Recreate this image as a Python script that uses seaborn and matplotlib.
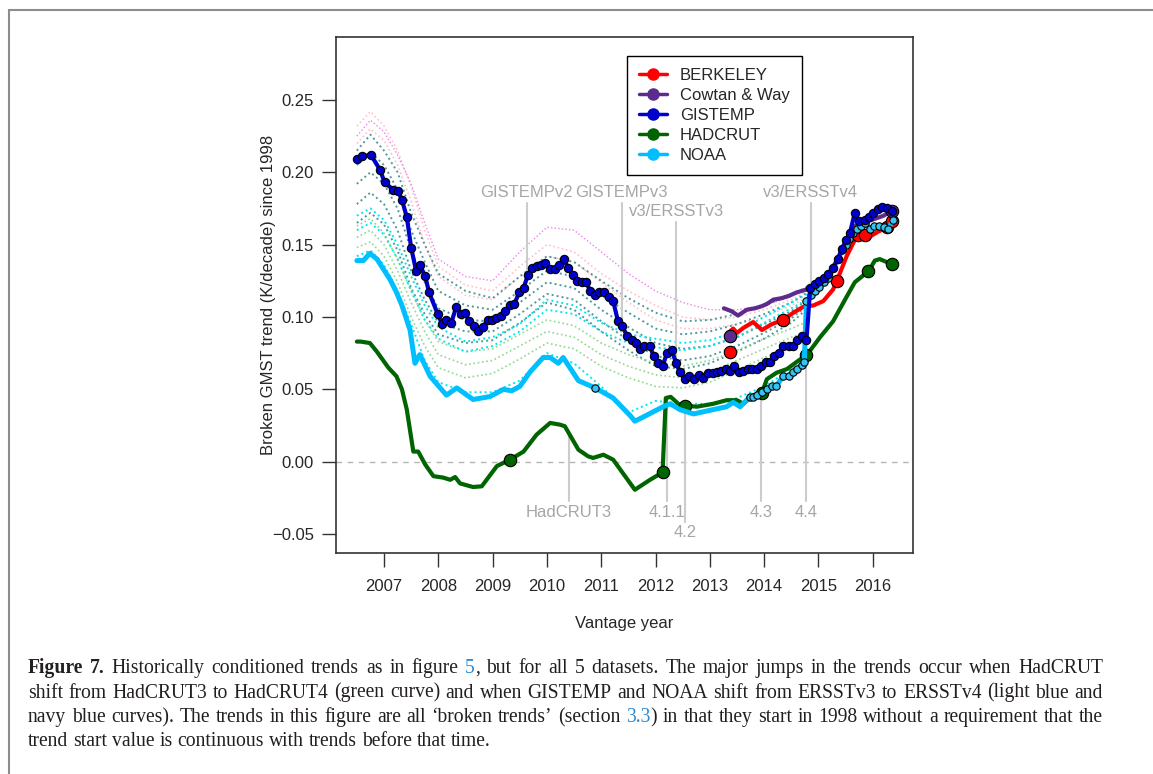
import re
import numpy as np
import matplotlib
matplotlib.use("Agg")
import matplotlib.pyplot as plt
from matplotlib.lines import Line2D
from matplotlib.ticker import FuncFormatter
import seaborn as sns

# ---- values (vantage year, broken trend in K/decade) ----
GISTEMP_X = [2006.50, 2006.59, 2006.76, 2006.93, 2007.01, 2007.17, 2007.26, 2007.33, 2007.42, 2007.50,
             2007.59, 2007.66, 2007.76, 2007.83, 2007.99, 2008.07, 2008.15, 2008.24, 2008.33, 2008.42,
             2008.49, 2008.57, 2008.66, 2008.74, 2008.82, 2008.91, 2008.99, 2009.06, 2009.15, 2009.23,
             2009.32, 2009.40, 2009.49, 2009.57, 2009.65, 2009.73, 2009.81, 2009.89, 2009.97, 2010.06,
             2010.14, 2010.23, 2010.31, 2010.39, 2010.48, 2010.56, 2010.64, 2010.72, 2010.80, 2010.89,
             2010.96, 2011.05, 2011.14, 2011.22, 2011.31, 2011.39, 2011.47, 2011.56, 2011.64, 2011.71,
             2011.79, 2011.89, 2011.97, 2012.05, 2012.13, 2012.21, 2012.30, 2012.38, 2012.45, 2012.54,
             2012.62, 2012.71, 2012.80, 2012.88, 2012.96, 2013.05, 2013.13, 2013.21, 2013.29, 2013.37,
             2013.45, 2013.54, 2013.62, 2013.70, 2013.78, 2013.86, 2013.94, 2014.03, 2014.11, 2014.19,
             2014.27, 2014.35, 2014.45, 2014.53, 2014.61, 2014.69, 2014.78, 2014.85, 2014.94, 2015.02,
             2015.10, 2015.18, 2015.27, 2015.36, 2015.43, 2015.51, 2015.58, 2015.67, 2015.75, 2015.85,
             2015.93, 2016.01, 2016.09, 2016.18, 2016.26, 2016.35]
GISTEMP_Y = [0.209, 0.211, 0.212, 0.2015, 0.193, 0.188, 0.187, 0.181, 0.169, 0.148,
             0.132, 0.136, 0.128, 0.117, 0.102, 0.095, 0.098, 0.096, 0.107, 0.102,
             0.103, 0.097, 0.094, 0.090, 0.093, 0.098, 0.098, 0.099, 0.101, 0.104,
             0.108, 0.109, 0.117, 0.120, 0.129, 0.134, 0.135, 0.136, 0.137, 0.133,
             0.133, 0.136, 0.140, 0.134, 0.129, 0.125, 0.124, 0.124, 0.118, 0.115,
             0.117, 0.117, 0.114, 0.111, 0.097, 0.094, 0.087, 0.084, 0.082, 0.078,
             0.080, 0.080, 0.073, 0.068, 0.066, 0.075, 0.077, 0.068, 0.062, 0.057,
             0.059, 0.057, 0.060, 0.058, 0.061, 0.061, 0.062, 0.063, 0.064, 0.063,
             0.066, 0.062, 0.063, 0.064, 0.064, 0.064, 0.066, 0.069, 0.069, 0.073,
             0.075, 0.080, 0.080, 0.080, 0.084, 0.087, 0.084, 0.120, 0.123, 0.125,
             0.127, 0.130, 0.134, 0.140, 0.147, 0.153, 0.158, 0.172, 0.166, 0.167,
             0.169, 0.172, 0.1745, 0.176, 0.1755, 0.1735]

NOAA_X = [2006.50, 2006.62, 2006.74, 2006.87, 2006.99, 2007.11, 2007.23, 2007.33, 2007.48, 2007.57,
          2007.66, 2007.85, 2008.15, 2008.34, 2008.64, 2008.95, 2009.20, 2009.35, 2009.50, 2009.69,
          2009.93, 2010.06, 2010.21, 2010.30, 2010.58, 2010.89, 2011.22, 2011.53, 2011.62, 2011.78,
          2012.14, 2012.27, 2012.45, 2012.70, 2013.06, 2013.31, 2013.43, 2013.56, 2013.74, 2013.80,
          2013.86, 2013.96, 2014.05, 2014.14, 2014.22, 2014.35, 2014.45, 2014.53, 2014.61, 2014.69,
          2014.74, 2014.78, 2014.86, 2014.94, 2015.02, 2015.10, 2015.18, 2015.27, 2015.36, 2015.43,
          2015.51, 2015.57, 2015.64, 2015.71, 2015.78, 2015.86, 2015.95, 2016.02, 2016.11, 2016.20,
          2016.29, 2016.37]
NOAA_Y = [0.139, 0.139, 0.144, 0.140, 0.133, 0.126, 0.117, 0.108, 0.091, 0.068,
          0.074, 0.059, 0.046, 0.051, 0.043, 0.045, 0.050, 0.049, 0.052, 0.062,
          0.072, 0.072, 0.068, 0.072, 0.056, 0.051, 0.044, 0.032, 0.028, 0.031,
          0.038, 0.040, 0.036, 0.033, 0.036, 0.038, 0.041, 0.038, 0.045, 0.045,
          0.046, 0.048, 0.050, 0.052, 0.052, 0.059, 0.059, 0.062, 0.064, 0.067,
          0.069, 0.111, 0.115, 0.118, 0.121, 0.124, 0.127, 0.134, 0.140, 0.146,
          0.150, 0.154, 0.158, 0.161, 0.163, 0.165, 0.161, 0.163, 0.163, 0.162,
          0.161, 0.167]

HADCRUT_X = [2006.50, 2006.57, 2006.74, 2006.87, 2007.08, 2007.23, 2007.33, 2007.42, 2007.54, 2007.63,
             2007.76, 2007.91, 2008.09, 2008.22, 2008.31, 2008.40, 2008.64, 2008.80, 2008.92, 2009.08,
             2009.32, 2009.57, 2009.81, 2010.06, 2010.24, 2010.33, 2010.58, 2010.76, 2010.85, 2011.04,
             2011.22, 2011.62, 2011.90, 2012.13, 2012.19, 2012.28, 2012.45, 2012.54, 2012.76, 2013.06,
             2013.31, 2013.50, 2013.62, 2013.80, 2013.96, 2014.05, 2014.23, 2014.42, 2014.66, 2014.78,
             2015.03, 2015.27, 2015.52, 2015.67, 2015.92, 2016.04, 2016.13, 2016.35]
HADCRUT_Y = [0.083, 0.083, 0.082, 0.076, 0.065, 0.059, 0.050, 0.036, 0.007, 0.007,
             -0.002, -0.010, -0.011, -0.0125, -0.0106, -0.015, -0.0175, -0.017, -0.011, -0.003,
             0.0014, 0.007, 0.0187, 0.0268, 0.0256, 0.0245, 0.0083, 0.0037, 0.0026, 0.0048,
             0.0014, -0.0194, -0.0125, -0.0074, 0.044, 0.0448, 0.039, 0.0388, 0.038, 0.040,
             0.0425, 0.0425, 0.040, 0.046, 0.0475, 0.057, 0.0615, 0.064, 0.0706, 0.0734,
             0.086, 0.097, 0.114, 0.124, 0.1316, 0.139, 0.140, 0.1365]
HADCRUT_MARKS = [2009.32, 2012.13, 2012.54, 2013.96, 2014.78, 2015.92, 2016.35]

BERKELEY_X = [2013.34, 2013.43, 2013.50, 2013.62, 2013.80, 2013.96, 2014.14, 2014.35, 2014.54, 2014.72,
              2014.91, 2015.09, 2015.27, 2015.34, 2015.52, 2015.64, 2015.72, 2015.85, 2015.95, 2016.10,
              2016.26, 2016.35]
BERKELEY_Y = [0.089, 0.092, 0.089, 0.0925, 0.0965, 0.091, 0.095, 0.098, 0.103, 0.107,
              0.108, 0.111, 0.119, 0.125, 0.142, 0.151, 0.157, 0.1565, 0.1556, 0.159,
              0.162, 0.166]
BERKELEY_MARKS = [2014.35, 2015.34, 2015.72, 2015.85, 2016.26, 2016.35]
BERKELEY_FIRST = [2013.37, 0.076]

COWTAN_X = [2013.26, 2013.40, 2013.52, 2013.68, 2013.83, 2013.96, 2014.05, 2014.17, 2014.32, 2014.45,
            2014.60, 2014.78, 2015.00, 2015.20, 2015.40, 2015.55, 2015.65, 2015.75, 2015.90, 2016.05,
            2016.20, 2016.35]
COWTAN_Y = [0.106, 0.104, 0.101, 0.105, 0.106, 0.1075, 0.109, 0.112, 0.113, 0.1145,
            0.117, 0.119, 0.123, 0.130, 0.143, 0.155, 0.163, 0.163, 0.166, 0.168,
            0.170, 0.1735]
COWTAN_MARKS = [2016.35]
COWTAN_FIRST = [2013.37, 0.087]

# faint dotted ensemble members (half-yearly readings)
ENS_X = [2006.5, 2006.75, 2007.0, 2007.25, 2007.5, 2007.75, 2008.0, 2008.5, 2009.0, 2009.5, 2010.0,
         2010.5, 2011.0, 2011.5, 2012.0, 2012.5, 2013.0, 2013.5, 2014.0, 2014.5, 2014.8]
TEAL_ENS = [
    [0.215, 0.226, 0.215, 0.200, 0.172, 0.150, 0.130, 0.118, 0.113, 0.128, 0.142, 0.138, 0.125, 0.113, 0.103, 0.097, 0.098, 0.102, 0.108, 0.115, 0.121],
    [0.205, 0.214, 0.205, 0.188, 0.160, 0.138, 0.118, 0.108, 0.105, 0.118, 0.132, 0.128, 0.115, 0.103, 0.092, 0.088, 0.090, 0.095, 0.102, 0.110, 0.117],
    [0.192, 0.200, 0.192, 0.175, 0.146, 0.124, 0.106, 0.098, 0.097, 0.110, 0.124, 0.120, 0.105, 0.093, 0.082, 0.078, 0.080, 0.086, 0.095, 0.104, 0.112],
    [0.178, 0.186, 0.178, 0.160, 0.132, 0.112, 0.096, 0.090, 0.090, 0.102, 0.116, 0.112, 0.097, 0.084, 0.073, 0.070, 0.073, 0.080, 0.089, 0.099, 0.108],
    [0.165, 0.172, 0.164, 0.146, 0.120, 0.102, 0.088, 0.082, 0.084, 0.096, 0.110, 0.105, 0.090, 0.077, 0.066, 0.064, 0.068, 0.076, 0.085, 0.096, 0.106],
]
CYAN_ENS = [
    [0.170, 0.175, 0.167, 0.150, 0.128, 0.108, 0.093, 0.083, 0.086, 0.095, 0.112, 0.108, 0.096, 0.088, 0.085, 0.082, 0.084, 0.090, 0.100, 0.110, 0.116],
    [0.160, 0.165, 0.157, 0.140, 0.118, 0.098, 0.085, 0.076, 0.080, 0.090, 0.105, 0.102, 0.090, 0.082, 0.079, 0.077, 0.080, 0.086, 0.096, 0.106, 0.112],
    [0.142, 0.146, 0.136, 0.118, 0.095, 0.070, 0.055, 0.048, 0.048, 0.056, 0.075, 0.068, 0.052, 0.034, 0.042, 0.040, 0.040, 0.044, 0.052, 0.064, 0.070],
]
GREEN_ENS = [
    [0.163, 0.168, 0.158, 0.140, 0.118, 0.098, 0.083, 0.076, 0.078, 0.088, 0.098, 0.094, 0.082, 0.074, 0.068, 0.066, 0.070, 0.077, 0.085, 0.092, 0.097],
    [0.155, 0.160, 0.150, 0.132, 0.110, 0.090, 0.074, 0.067, 0.070, 0.080, 0.090, 0.086, 0.074, 0.066, 0.060, 0.058, 0.062, 0.070, 0.078, 0.086, 0.090],
    [0.148, 0.152, 0.142, 0.124, 0.100, 0.080, 0.065, 0.058, 0.061, 0.071, 0.082, 0.078, 0.066, 0.058, 0.052, 0.051, 0.055, 0.063, 0.072, 0.080, 0.084],
]
PINK_ENS = [
    [0.232, 0.242, 0.232, 0.215, 0.190, 0.160, 0.135, 0.122, 0.118, 0.135, 0.150, 0.145, 0.130, 0.118, 0.108, 0.100, 0.098, 0.100, 0.105, 0.112, 0.118],
    [0.220, 0.230, 0.222, 0.205, 0.180, 0.150, 0.128, 0.115, 0.112, 0.128, 0.142, 0.138, 0.124, 0.110, 0.098, 0.092, 0.092, 0.095, 0.100, 0.108, 0.114],
]
VIOLET_ENS = [
    [0.225, 0.236, 0.228, 0.212, 0.192, 0.165, 0.140, 0.128, 0.125, 0.145, 0.162, 0.160, 0.145, 0.130, 0.118, 0.110, 0.105, 0.105, 0.108, 0.114, 0.120],
]

SERIES = ["BERKELEY", "Cowtan & Way", "GISTEMP", "HADCRUT", "NOAA"]
COLORS = ["#ff0000", "#5d2a8e", "#0000cd", "#006400", "#00bfff"]

TOP_LABELS = ["GISTEMPv2", "GISTEMPv3", "v3/ERSSTv3", "v3/ERSSTv4"]
TOP_X = [2009.63, 2011.38, 2012.38, 2014.86]
TOP_Y = [0.186, 0.186, 0.173, 0.186]
BOTTOM_LABELS = ["HadCRUT3", "4.1.1", "4.2", "4.3", "4.4"]
BOTTOM_X = [2010.40, 2012.21, 2012.54, 2013.95, 2014.78]
BOTTOM_Y = [-0.035, -0.035, -0.049, -0.035, -0.035]

CAPTION = [
    "*Figure *7. Historically conditioned trends as in figure {5}, but for all 5 datasets. The major jumps in the trends occur when HadCRUT",
    "shift from HadCRUT3 to HadCRUT4 (green curve) and when GISTEMP and NOAA shift from ERSSTv3 to ERSSTv4 (light blue and",
    "navy blue curves). The trends in this figure are all \u2018broken trends\u2019 (section {3.3}) in that they start in 1998 without a requirement that the",
    "trend start value is continuous with trends before that time.",
]

# ---- figure ----
sns.set_style("ticks")
plt.rcParams['font.family'] = ['Liberation Sans', 'DejaVu Sans']
W, H = 1153, 774
fig = plt.figure(figsize=(W / 100, H / 100), dpi=100)
ax = fig.add_axes([336 / W, 1 - 553 / H, 577 / W, 516 / H])

dot = (0, (1, 1.6))
for vals in PINK_ENS:
    sns.lineplot(x=ENS_X, y=vals, ax=ax, color="#ffc0cb", lw=1.2, linestyle=dot, zorder=1, legend=False)
for vals in VIOLET_ENS:
    sns.lineplot(x=ENS_X, y=vals, ax=ax, color="#ee82ee", lw=1.0, linestyle=dot, zorder=1, legend=False)
for vals in TEAL_ENS:
    sns.lineplot(x=ENS_X, y=vals, ax=ax, color="#4f9a9a", lw=1.4, linestyle=dot, zorder=1, legend=False)
for vals in GREEN_ENS:
    sns.lineplot(x=ENS_X, y=vals, ax=ax, color="#8fd88f", lw=1.2, linestyle=dot, zorder=1, legend=False)
for vals in CYAN_ENS:
    sns.lineplot(x=ENS_X, y=vals, ax=ax, color="#00e8f0", lw=1.4, linestyle=dot, zorder=1, legend=False)

ax.axhline(0, color="#b5b5b5", lw=1, ls=(0, (4, 4)), zorder=0.5)

# version-change annotations
ann_col, ann_line = "#a6a6a6", "#cccccc"
gis_at = np.interp(TOP_X, GISTEMP_X, GISTEMP_Y)
for lab, x, y, yb in zip(TOP_LABELS, TOP_X, TOP_Y, gis_at):
    ax.plot([x, x], [y - 0.0075, yb], color=ann_line, lw=1.5, zorder=1.5)
    ax.text(x, y, lab, ha="center", va="center", fontsize=12, color=ann_col)
had_at = np.interp(BOTTOM_X, HADCRUT_X, HADCRUT_Y)
for lab, x, y, yt in zip(BOTTOM_LABELS, BOTTOM_X, BOTTOM_Y, had_at):
    ax.plot([x, x], [y + 0.0075, yt], color=ann_line, lw=1.5, zorder=1.5)
    ax.text(x, y, lab, ha="center", va="center", fontsize=12, color=ann_col)


def draw(xs, ys, col, lw, z, mark_idx, ms, mcol=None):
    sns.lineplot(x=xs, y=ys, ax=ax, color=col, lw=lw, sort=False, estimator=None, zorder=z, legend=False)
    if mark_idx:
        mx = [xs[i] for i in mark_idx]
        my = [ys[i] for i in mark_idx]
        sns.scatterplot(x=mx, y=my, ax=ax, s=ms, color=mcol or col, edgecolor="black",
                        linewidth=0.8, zorder=z + 0.05, legend=False)


def idx_of(xs, marks):
    return [i for i, x in enumerate(xs) if any(abs(x - m) < 1e-6 for m in marks)]


c_berk, c_cw, c_gis, c_had, c_noaa = COLORS
draw(BERKELEY_X, BERKELEY_Y, c_berk, 3.0, 3.0, idx_of(BERKELEY_X, BERKELEY_MARKS), 80)
sns.scatterplot(x=[BERKELEY_FIRST[0]], y=[BERKELEY_FIRST[1]], ax=ax, s=80, color=c_berk,
                edgecolor="black", linewidth=0.8, zorder=3.05, legend=False)
draw(COWTAN_X, COWTAN_Y, c_cw, 3.0, 3.2, idx_of(COWTAN_X, COWTAN_MARKS), 80)
sns.scatterplot(x=[COWTAN_FIRST[0]], y=[COWTAN_FIRST[1]], ax=ax, s=80, color=c_cw,
                edgecolor="black", linewidth=0.8, zorder=3.25, legend=False)
draw(HADCRUT_X, HADCRUT_Y, c_had, 3.0, 3.4, idx_of(HADCRUT_X, HADCRUT_MARKS), 80)
noaa_marks = [i for i, x in enumerate(NOAA_X) if x >= 2013.74 or abs(x - 2010.89) < 1e-6]
draw(NOAA_X, NOAA_Y, c_noaa, 3.6, 3.6, noaa_marks, 28, "#33c4f2")
draw(GISTEMP_X, GISTEMP_Y, c_gis, 3.0, 3.8, list(range(len(GISTEMP_X))), 36)

ax.set_xlim(2006.116, 2016.742)
ax.set_ylim(-0.0631, 0.2935)
ax.set_xticks(range(2007, 2017))
ax.set_yticks([-0.05, 0.0, 0.05, 0.10, 0.15, 0.20, 0.25])
ax.yaxis.set_major_formatter(FuncFormatter(lambda v, p: f"{v:.2f}".replace("-", "\u2212")))
ax.tick_params(axis="both", direction="out", length=10, width=1, color="#333333", labelsize=12)
ax.tick_params(axis="x", pad=9)
ax.tick_params(axis="y", pad=6)
for sp in ax.spines.values():
    sp.set_color("#333333")
    sp.set_linewidth(1.2)

ax.set_xlabel("Vantage year", fontsize=12)
ax.set_ylabel("Broken GMST trend (K/decade) since 1998", fontsize=12)
ax.xaxis.set_label_coords(0.5, -0.122)
ax.yaxis.set_label_coords(-0.104, 0.5)

handles = [Line2D([], [], color=c, lw=2.5, marker="o", ms=8, mec=c) for c in COLORS]
leg = ax.legend(handles, SERIES, loc="upper left", bbox_to_anchor=(0.504, 0.963), fontsize=12,
                frameon=True, fancybox=False, edgecolor="black", framealpha=1, borderpad=0.72,
                labelspacing=0.3, handlelength=1.7, handletextpad=0.75, borderaxespad=0)
leg.get_frame().set_linewidth(1.0)

# page frame
fig.add_artist(Line2D([9 / W, 9 / W], [1 - 10 / H, 0], transform=fig.transFigure, color="#8c8c8c", lw=1.5))
fig.add_artist(Line2D([9 / W, 1], [1 - 10 / H, 1 - 10 / H], transform=fig.transFigure, color="#8c8c8c", lw=1.5))

# caption, justified word by word
SERIF = ["Liberation Serif", "DejaVu Serif"]
renderer = fig.canvas.get_renderer()


def parse(word):
    bold = word.startswith("*")
    word = word.strip("*")
    segs = []
    for part in re.split(r"(\{[^}]*\})", word):
        if not part:
            continue
        if part.startswith("{"):
            segs.append((part[1:-1], "#2a8ad0", bold))
        else:
            segs.append((part, "#231f20", bold))
    return segs


def width(txt, bold, size):
    t = fig.text(0, 0, txt, fontsize=size, family=SERIF, weight="bold" if bold else "normal")
    w = t.get_window_extent(renderer).width
    t.remove()
    return w


def natural(line, size):
    words = [parse(w) for w in line.split(" ")]
    ww = [sum(width(s, b, size) for s, _, b in segs) for segs in words]
    sp = width("a a", False, size) - width("aa", False, size)
    return words, ww, sp


left, right = 28, 1103
base = 14
nat = max(sum(natural(l, base)[1]) + natural(l, base)[2] * (len(l.split(" ")) - 1) for l in CAPTION[:3])
size = base * (right - left) / nat * 0.995
baselines = [673, 697.5, 722, 746.5]
for k, line in enumerate(CAPTION):
    words, ww, sp = natural(line, size)
    if k < 3:
        sp = (right - left - sum(ww)) / (len(words) - 1)
    x = left
    for segs, wdt in zip(words, ww):
        xx = x
        for s, col, b in segs:
            fig.text(xx / W, 1 - baselines[k] / H, s, fontsize=size, family=SERIF, color=col,
                     weight="bold" if b else "normal", va="baseline", ha="left")
            xx += width(s, b, size)
        x += wdt + sp

fig.savefig("out.png", dpi=100)
